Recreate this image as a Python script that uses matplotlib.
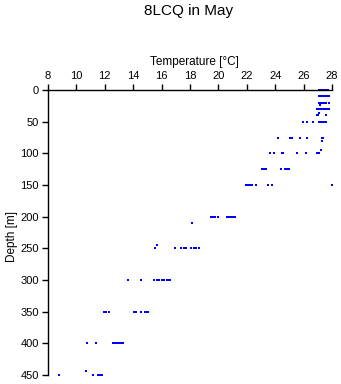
import matplotlib
matplotlib.use("Agg")
import matplotlib.pyplot as plt

# depth [m] of each sample row, and the temperatures [degC] read in that row
row_depths = [0, 10, 20, 23, 30, 37, 40, 50, 75, 80, 95, 100, 125, 150,
              200, 210, 245, 250, 300, 350, 400, 443, 450]
row_temps = [
    [27.10, 27.22, 27.35, 27.45, 27.55, 27.65, 27.75],
    [27.10, 27.20, 27.32, 27.42, 27.55, 27.66, 27.76],
    [27.08, 27.20, 27.30, 27.45, 27.60, 27.78],
    [27.15],
    [26.92, 27.02, 27.15, 27.25, 27.38, 27.50, 27.62, 27.76],
    [27.10],
    [26.92, 27.00, 27.60],
    [25.94, 26.26, 26.64, 27.06, 27.15, 27.25, 27.35, 27.45, 27.58],
    [24.20, 25.05, 25.15, 25.75, 26.26, 27.30, 27.40],
    [27.33],
    [27.25],
    [23.63, 23.90, 24.50, 24.58, 25.51, 26.17, 26.96, 27.05],
    [23.10, 23.20, 23.35, 24.39, 24.72, 24.85, 25.00],
    [21.92, 22.05, 22.20, 22.34, 22.65, 23.50, 23.80, 28.00],
    [19.50, 19.62, 19.75, 19.95, 20.60, 20.75, 20.90, 21.05, 21.20],
    [18.16],
    [15.65],
    [15.55, 16.96, 17.40, 17.55, 17.75, 18.10, 18.25, 18.40, 18.60],
    [13.66, 14.57, 15.46, 15.70, 15.85, 16.00, 16.12, 16.20, 16.35, 16.50, 16.60],
    [11.96, 12.10, 12.30, 14.05, 14.20, 14.57, 14.80, 14.95, 15.06],
    [10.77, 11.38, 12.55, 12.70, 12.85, 13.00, 13.15, 13.26],
    [10.65],
    [8.77, 11.20, 11.50, 11.65, 11.82],
]
temp_ticks = list(range(8, 29, 2))
depth_ticks = list(range(0, 451, 50))

depth = []
temp = []
for d, ts in zip(row_depths, row_temps):
    depth += [d] * len(ts)
    temp += ts

plt.rcParams['font.family'] = ['Liberation Sans', 'DejaVu Sans']

W, H = 341, 384
fig = plt.figure(figsize=(W / 100, H / 100), dpi=100)
# plot region: x 48..341 px, y 90..384 px
ax = fig.add_axes([48 / W, 0, 293 / W, 294 / H])
ax.set_xlim(8, 8 + 293 / 14.2)
ax.set_ylim(450 * 294 / 285, 0)

ax.plot(temp, depth, ls='none', marker='s', ms=2.0, mew=0,
        color='#0000ff', clip_on=False)

for s in ['right', 'bottom']:
    ax.spines[s].set_visible(False)
ax.spines['top'].set_bounds(8, 28)
ax.spines['left'].set_bounds(0, 450)
ax.spines['top'].set_linewidth(1)
ax.spines['left'].set_linewidth(1)

ax.xaxis.tick_top()
ax.xaxis.set_label_position('top')
ax.set_xticks(temp_ticks)
ax.set_yticks(depth_ticks)
ax.tick_params(length=4.5, width=1, labelsize=8, pad=2)
ax.set_xlabel('Temperature [°C]', fontsize=8.5, labelpad=4)
ax.set_ylabel('Depth [m]', fontsize=8.5, labelpad=2)

fig.text(189 / W, 1 - 11 / H, '8LCQ in May', ha='center', va='center',
         fontsize=11)

fig.savefig('out.png', dpi=100)
